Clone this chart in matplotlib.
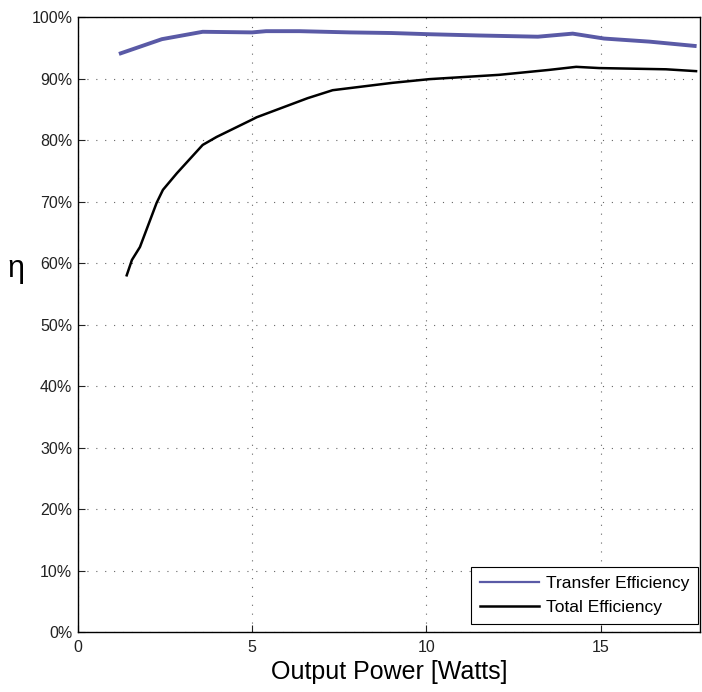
import matplotlib
matplotlib.use("Agg")
from matplotlib import pyplot as plt
from matplotlib.ticker import FuncFormatter

# Output power [W] and efficiencies [%]
p_transfer = [1.23, 2.41, 3.58, 5.0, 5.4, 6.36, 7.8, 9.0, 10.1, 11.5, 13.2, 14.2, 15.1, 16.4, 17.7]
eta_transfer = [94.1, 96.4, 97.6, 97.5, 97.7, 97.7, 97.5, 97.4, 97.2, 97.0, 96.8, 97.3, 96.5, 96.0, 95.3]

p_total = [1.4, 1.55, 1.78, 2.26, 2.44, 2.84, 3.58, 3.98, 4.99, 5.13, 6.59, 7.31,
           9.03, 10.09, 12.09, 13.52, 14.3, 14.96, 16.88, 17.74]
eta_total = [58.0, 60.5, 62.6, 69.8, 71.9, 74.6, 79.2, 80.5, 83.3, 83.7, 86.8, 88.1,
             89.3, 89.9, 90.6, 91.4, 91.9, 91.7, 91.5, 91.2]

x_ticks = [0, 5, 10, 15]
y_ticks = list(range(0, 101, 10))

plt.rcParams['font.family'] = ['Liberation Sans', 'DejaVu Sans']

fig = plt.figure(figsize=(7.02, 6.92), dpi=100)
ax = fig.add_axes([0.111, 0.0867, 0.886, 0.8887])

ax.plot(p_transfer, eta_transfer, color="#5a5aa6", linewidth=2.8, label="Transfer Efficiency")
ax.plot(p_total, eta_total, color="black", linewidth=1.8, label="Total Efficiency")

ax.set_xlim(0, 17.85)
ax.set_ylim(0, 100)
ax.set_xticks(x_ticks)
ax.set_yticks(y_ticks)
ax.yaxis.set_major_formatter(FuncFormatter(lambda v, pos: "%d%%" % v))
ax.tick_params(direction="in", length=5, labelsize=11.5, colors="#222222")
ax.tick_params(axis="x", pad=6)
ax.tick_params(axis="y", pad=4)
ax.grid(True, color="#666666", linestyle=(0, (1, 7)), linewidth=0.8)
for s in ax.spines.values():
    s.set_linewidth(1.0)

ax.set_xlabel("Output Power [Watts]", fontsize=18, labelpad=3)
ax.set_ylabel("\u03b7", fontsize=22, rotation=0, va="center", ha="center")
ax.yaxis.set_label_coords(-0.1, 0.59)

leg = ax.legend(loc="lower right", bbox_to_anchor=(0.997, 0.013), fontsize=12.5,
                fancybox=False, framealpha=1, edgecolor="black", borderaxespad=0,
                handlelength=3.4, handletextpad=0.4, labelspacing=0.55, borderpad=0.5)
leg.get_frame().set_linewidth(0.8)
leg.get_lines()[0].set_linewidth(1.6)

fig.savefig("out.png", dpi=100)
